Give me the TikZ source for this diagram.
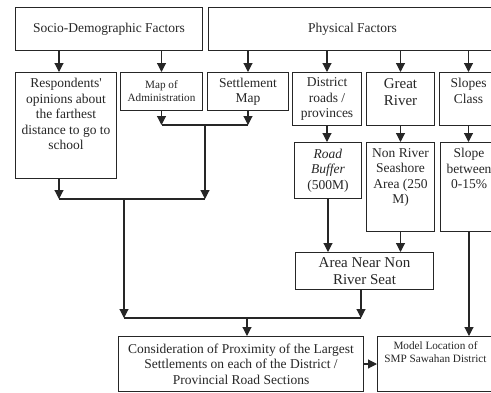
\documentclass[tikz,border=0pt]{standalone}
\usepackage{fontspec}
\newfontfamily\tnr{Liberation Serif}
\usetikzlibrary{arrows.meta}

\tikzset{
  box/.style={draw=black!85, line width=1pt, anchor=north west, inner sep=2pt, align=center, text=black!85},
  toplbl/.style={align=center, anchor=north, inner sep=0pt, text=black!85},
  arr/.style={draw=black!85, line width=1.1pt, -{Triangle[length=9pt,width=9pt]}},
  wire/.style={draw=black!85, line width=1.1pt},
  smallfont/.style={font=\tnr\fontsize{11.2}{13}\selectfont},
  bigfont/.style={font=\tnr\fontsize{15}{17}\selectfont},
}

\begin{document}
\begin{tikzpicture}[x=1pt, y=-1pt, font=\tnr\fontsize{13.5}{15.5}\selectfont]
\useasboundingbox (0,0) rectangle (491,392);
\clip (0,0) rectangle (491,392);

% factors
\node[box, minimum width=187, minimum height=43] (socio) at (15,7) {Socio-Demographic Factors};
\node[box, minimum width=288, minimum height=43] (phys) at (208,7) {Physical Factors};

% data sources
\node[box, minimum width=101, minimum height=106,
  label={[toplbl, yshift=-6pt]north:{Respondents'\\opinions about\\the farthest\\distance to go to\\school}}] (resp) at (15,72) {};
\node[box, smallfont, minimum width=82, minimum height=38] (admin) at (120,72) {Map of\\Administration};
\node[box, minimum width=81, minimum height=38] (settle) at (207,72) {Settlement\\Map};
\node[box, minimum width=69, minimum height=53] (droads) at (292,72) {District\\roads /\\provinces};
\node[box, minimum width=68, minimum height=53,
  label={[toplbl, bigfont, yshift=-6pt]north:{Great\\River}}] (river) at (366,72) {};
\node[box, minimum width=58, minimum height=53,
  label={[toplbl, yshift=-6pt]north:{Slopes\\Class}}] (slope) at (439,72) {};

% processing
\node[box, minimum width=67, minimum height=56] (rbuf) at (294,142) {\textit{Road}\\\textit{Buffer}\\(500M)};
\node[box, minimum width=68, minimum height=89,
  label={[toplbl, yshift=-6pt]north:{Non River\\Seashore\\Area (250\\M)}}] (nriver) at (366,142) {};
\node[box, minimum width=57, minimum height=89,
  label={[toplbl, yshift=-6pt]north:{Slope\\between\\0-15\%}}] (slopeb) at (440,142) {};
\node[box, bigfont, minimum width=138, minimum height=37] (area) at (295,252) {Area Near Non\\River Seat};

% results
\node[box, minimum width=245, minimum height=55] (consid) at (118,336)
  {Consideration of Proximity of the Largest\\Settlements on each of the District /\\Provincial Road Sections};
\node[box, minimum width=116, minimum height=55,
  label={[toplbl, smallfont, yshift=-5pt]north:{Model Location of\\SMP Sawahan District}}] (model) at (377,336) {};

% junctions
\coordinate (rtop) at ([xshift=-7pt]resp.north);
\coordinate (j1) at (205,125);
\coordinate (j2) at (205,199);
\coordinate (j3) at (124,199);
\coordinate (j4) at (124,318);
\coordinate (j5) at (247,318);
\coordinate (j6) at (361,318);

% arrows from factors
\draw[arr] (socio.south -| rtop) -- (rtop);
\draw[arr] (socio.south -| admin.north) -- (admin.north);
\draw[arr] (phys.south -| settle.north) -- (settle.north);
\draw[arr] (phys.south -| droads.north) -- (droads.north);
\draw[arr] (phys.south -| river.north) -- (river.north);
\draw[arr] (phys.south -| slope.north) -- (slope.north);

% left branch
\draw[arr] (admin.south) -- (admin.south |- j1);
\draw[arr] (settle.south) -- (settle.south |- j1);
\draw[wire] (admin.south |- j1) -- (settle.south |- j1);
\draw[arr] (j1) -- (j2);
\draw[arr] (resp.south -| rtop) -- (rtop |- j2);
\draw[wire] (rtop |- j2) -- (j2);
\draw[arr] (j3) -- (j4);
\draw[wire] (j4) -- (j6);

% right branch
\draw[arr] (droads.south) -- (droads.south |- rbuf.north);
\draw[arr] (river.south) -- (river.south |- nriver.north);
\draw[arr] (slope.south) -- (slope.south |- slopeb.north);
\draw[arr] (rbuf.south) -- (rbuf.south |- area.north);
\draw[arr] (nriver.south) -- (nriver.south |- area.north);
\draw[arr] (area.south -| j6) -- (j6);

% results
\draw[arr] (j5) -- (j5 |- consid.north);
\draw[arr] (slopeb.south) -- (slopeb.south |- model.north);
\draw[arr] (consid.east) -- (consid.east -| model.west);
\end{tikzpicture}
\end{document}
